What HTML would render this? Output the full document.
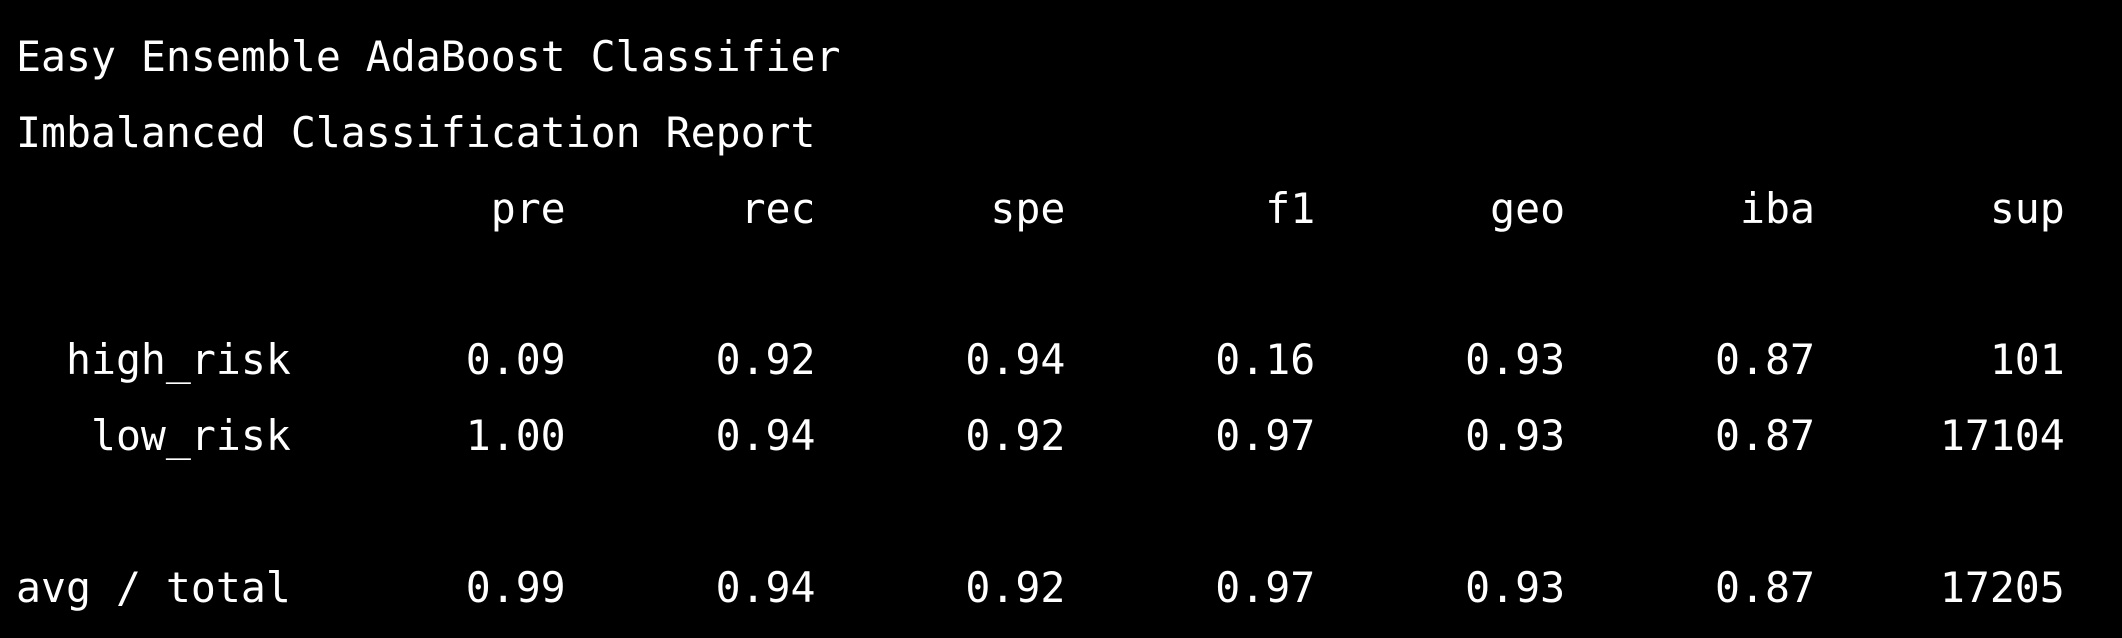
<!DOCTYPE html>
<html>
<head>
<meta charset="utf-8">
<style>
html,body{margin:0;padding:0;background:#000;}
body{width:2122px;height:638px;overflow:hidden;}
pre{margin:0;position:absolute;left:16px;top:19px;color:#fff;font-family:"DejaVu Sans Mono","Liberation Mono",monospace;font-size:41.5px;line-height:75.8px;}
pre span{display:block;height:75.8px;white-space:pre;}
</style>
</head>
<body>
<pre><span>Easy Ensemble AdaBoost Classifier</span><span>Imbalanced Classification Report</span><span>                   pre       rec       spe        f1       geo       iba       sup</span><span> </span><span>  high_risk       0.09      0.92      0.94      0.16      0.93      0.87       101</span><span>   low_risk       1.00      0.94      0.92      0.97      0.93      0.87     17104</span><span> </span><span>avg / total       0.99      0.94      0.92      0.97      0.93      0.87     17205</span></pre>
</body>
</html>
